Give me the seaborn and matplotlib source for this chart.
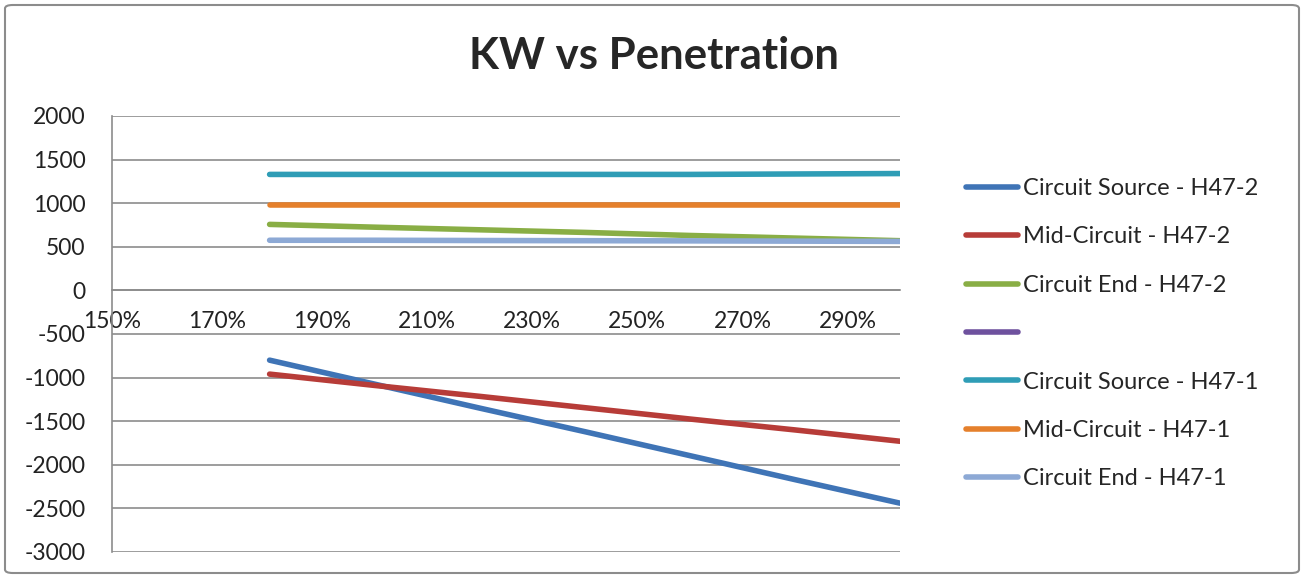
import pandas as pd
import matplotlib
matplotlib.use('Agg')
import matplotlib.pyplot as plt
import seaborn as sns
from matplotlib.lines import Line2D
from matplotlib.patches import FancyBboxPatch
from matplotlib.ticker import PercentFormatter

# penetration (%) and KW readings per series
penetration = [180, 200, 220, 240, 260, 280, 300]
source_h47_2 = [-800, -1075, -1350, -1620, -1895, -2170, -2440]
mid_h47_2 = [-960, -1090, -1215, -1345, -1475, -1600, -1730]
end_h47_2 = [757, 725, 695, 665, 630, 600, 570]
source_h47_1 = [1330, 1330, 1330, 1330, 1330, 1335, 1340]
mid_h47_1 = [975, 975, 975, 975, 975, 975, 975]
end_h47_1 = [575, 575, 572, 570, 568, 565, 562]

series_names = ['Circuit Source - H47-2', 'Mid-Circuit - H47-2', 'Circuit End - H47-2', '',
                'Circuit Source - H47-1', 'Mid-Circuit - H47-1', 'Circuit End - H47-1']
series_values = [source_h47_2, mid_h47_2, end_h47_2, None,
                 source_h47_1, mid_h47_1, end_h47_1]
colors = ['#3F74B6', '#B73C38', '#89AE45', '#6E519E', '#2F9DB6', '#E5802C', '#8DA9D5']

rows = []
for name, vals in zip(series_names, series_values):
    if vals is None:
        continue
    for x, y in zip(penetration, vals):
        rows.append({'Penetration': x, 'KW': y, 'Series': name})
df = pd.DataFrame(rows)

sns.set_style('white')
plt.rcParams['font.family'] = ['Lato', 'DejaVu Sans']
plt.rcParams['axes.unicode_minus'] = False

fig = plt.figure(figsize=(13.08, 5.77), dpi=100)
ax = fig.add_axes([112 / 1308, 1 - 552 / 577, (900 - 112) / 1308, (552 - 116) / 577])

palette = {n: c for n, c in zip(series_names, colors) if n}
draw_order = ['Circuit Source - H47-2', 'Mid-Circuit - H47-2', 'Circuit End - H47-2',
              'Circuit Source - H47-1', 'Mid-Circuit - H47-1', 'Circuit End - H47-1']
sns.lineplot(data=df, x='Penetration', y='KW', hue='Series', hue_order=draw_order,
             palette=palette, linewidth=4, solid_capstyle='round', legend=False, ax=ax)

ax.set_xlim(150, 300)
ax.set_ylim(-3000, 2000)
ax.set_xticks(range(150, 300, 20))
ax.set_yticks(range(-3000, 2001, 500))
ax.xaxis.set_major_formatter(PercentFormatter(decimals=0))
ax.set_xlabel('')
ax.set_ylabel('')

ax.yaxis.grid(True, color='#8c8c8c', linewidth=1.2)
ax.xaxis.grid(False)
ax.set_axisbelow(True)
for s in ['top', 'right']:
    ax.spines[s].set_visible(False)
ax.spines['bottom'].set_position(('data', 0))
ax.spines['bottom'].set_color('#8c8c8c')
ax.spines['left'].set_color('#8c8c8c')
ax.spines['bottom'].set_linewidth(1.2)
ax.spines['left'].set_linewidth(1.2)
ax.tick_params(axis='x', direction='out', length=4, width=1, color='#8c8c8c',
               pad=11, labelsize=16.5, labelcolor='#222222')
ax.tick_params(axis='y', length=0, pad=19, labelsize=16.5, labelcolor='#222222')

handles = [Line2D([0], [0], color=c, linewidth=4, solid_capstyle='round') for c in colors]
fig.legend(handles, series_names, loc='upper left', bbox_to_anchor=(966 / 1308, 1 - 178 / 577),
           frameon=False, fontsize=17, handlelength=2.2, handletextpad=0.2,
           labelspacing=1.16, borderaxespad=0, borderpad=0)

fig.text(0.5, 1 - 56 / 577, 'KW vs Penetration', ha='center', va='center',
         fontsize=31.5, fontweight='bold')

fig.patches.append(FancyBboxPatch((5 / 1308, 4 / 577), 1294 / 1308, 568 / 577,
                                  boxstyle='round,pad=0,rounding_size=0.006',
                                  transform=fig.transFigure, fill=False,
                                  edgecolor='#8c8c8c', linewidth=1.5))

fig.savefig('out.png', dpi=100)
